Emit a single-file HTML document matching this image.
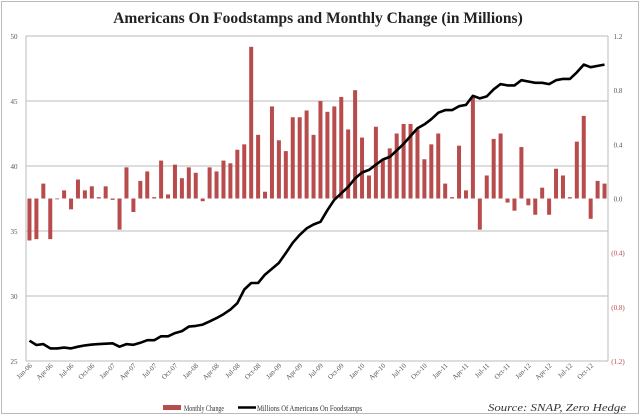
<!DOCTYPE html>
<html><head><meta charset="utf-8"><style>
html,body{margin:0;padding:0;background:#fff}
svg{display:block;font-family:"Liberation Serif",serif}
</style></head><body>
<svg id="chart" width="640" height="415" viewBox="0 0 640 415" xmlns="http://www.w3.org/2000/svg">
<rect x="1.5" y="1.5" width="637" height="412" fill="#fff" stroke="#bbb" stroke-width="1"/>
<text x="318" y="23" text-anchor="middle" font-size="15.5" font-weight="bold" fill="#222">Americans On Foodstamps and Monthly Change (in Millions)</text>
<g id="grid"></g>
<g id="bars"></g>
<g id="line"></g>
<g id="yleft"></g>
<g id="yright"></g>
<g id="xaxis"></g>
<g>
<rect x="163" y="405" width="18" height="5" fill="#b84c4c"/>
<text x="184" y="411" font-size="8" textLength="40" lengthAdjust="spacingAndGlyphs" fill="#333">Monthly Change</text>
<line x1="238" y1="407.5" x2="256" y2="407.5" stroke="#000" stroke-width="2.5"/>
<text x="257" y="411" font-size="8" textLength="105" lengthAdjust="spacingAndGlyphs" fill="#333">Millions Of Americans On Foodstamps</text>
</g>
<text x="488" y="411" font-size="10" textLength="138" lengthAdjust="spacingAndGlyphs" font-style="italic" fill="#333">Source: SNAP, Zero Hedge</text>
</svg>
<script>
const changes=[-0.31,-0.30,0.11,-0.30,0.0,0.06,-0.08,0.14,0.06,0.09,0.01,0.09,-0.01,-0.23,0.23,-0.10,0.13,0.20,0.01,0.28,0.03,0.25,0.15,0.23,0.19,-0.02,0.23,0.20,0.28,0.26,0.36,0.40,1.12,0.47,0.05,0.68,0.43,0.35,0.60,0.60,0.65,0.47,0.72,0.64,0.68,0.75,0.51,0.80,0.45,0.17,0.53,0.29,0.37,0.48,0.55,0.55,0.51,0.29,0.40,0.48,0.11,0.01,0.39,0.06,0.75,-0.23,0.17,0.44,0.48,-0.03,-0.09,0.38,-0.05,-0.12,0.08,-0.12,0.22,0.17,0.01,0.42,0.61,-0.15,0.13,0.11];
const totals=[26.56,26.23,26.3,25.97,25.97,26.03,25.97,26.1,26.2,26.26,26.3,26.33,26.36,26.1,26.3,26.25,26.4,26.6,26.6,26.9,26.9,27.15,27.3,27.65,27.7,27.8,28.05,28.3,28.6,28.95,29.45,30.5,31.0,31.0,31.65,32.1,32.55,33.3,34.1,34.7,35.2,35.5,35.71,36.6,37.4,37.9,38.4,39.05,39.5,39.7,40.1,40.5,40.7,41.2,41.7,42.3,42.9,43.2,43.6,44.1,44.3,44.3,44.6,44.7,45.4,45.2,45.35,45.9,46.3,46.2,46.2,46.6,46.5,46.4,46.4,46.3,46.6,46.7,46.7,47.2,47.8,47.6,47.7,47.8];
const xLabels=["Jan-06","Apr-06","Jul-06","Oct-06","Jan-07","Apr-07","Jul-07","Oct-07","Jan-08","Apr-08","Jul-08","Oct-08","Jan-09","Apr-09","Jul-09","Oct-09","Jan-10","Apr-10","Jul-10","Oct-10","Jan-11","Apr-11","Jul-11","Oct-11","Jan-12","Apr-12","Jul-12","Oct-12"];
const leftTicks=[25,30,35,40,45,50];
const rightTicks=[-1.2,-0.8,-0.4,0.0,0.4,0.8,1.2];
const NS="http://www.w3.org/2000/svg";
const X0=26,X1=608,TOP=36,BOT=361;
const band=(X1-X0)/changes.length;
const xc=i=>X0+band*(i+0.5);
const yL=v=>BOT-(v-25)/25*(BOT-TOP);
const yR=v=>BOT-(v+1.2)/2.4*(BOT-TOP);
function mk(tag,attrs,parent){const e=document.createElementNS(NS,tag);for(const k in attrs)e.setAttribute(k,attrs[k]);parent.appendChild(e);return e;}
const grid=document.getElementById('grid');
leftTicks.forEach(t=>{
  const l=mk('line',{x1:X0,x2:X1,y1:yL(t),y2:yL(t),stroke:'#bbb','stroke-width':1},grid);
  
  
});
const yl=document.getElementById('yleft');
mk('line',{x1:X0,x2:X0,y1:TOP,y2:BOT,stroke:'#bbb'},yl);
leftTicks.forEach(t=>{
  const tx=mk('text',{x:14,y:yL(t)+3,'text-anchor':'middle','font-size':7,fill:'#555'},yl);
  tx.textContent=t;
  
  
});
const yr=document.getElementById('yright');
mk('line',{x1:X1,x2:X1,y1:TOP,y2:BOT,stroke:'#bbb'},yr);
rightTicks.forEach(t=>{
  const neg=t<0;
  const s=neg?'('+Math.abs(t).toFixed(1)+')':t.toFixed(1);
  const tx=mk('text',{x:618,y:yR(t)+3,'text-anchor':'middle','font-size':7,fill:neg?'#b84c4c':'#555'},yr);
  tx.textContent=s;
  
  
});
const bars=document.getElementById('bars');
changes.forEach((v,i)=>{
  const y0=yR(0),y1=yR(v);
  const r=mk('rect',{x:xc(i)-2,y:Math.min(y0,y1),width:4,height:Math.max(0.8,Math.abs(y1-y0)),fill:'#b84c4c'},bars);
  
  
});
const lg=document.getElementById('line');
const p=mk('polyline',{points:totals.map((v,i)=>xc(i).toFixed(1)+','+yL(v).toFixed(1)).join(' '),fill:'none',stroke:'#000','stroke-width':2.6,'stroke-linejoin':'round'},lg);


const xa=document.getElementById('xaxis');
xLabels.forEach((s,k)=>{
  const x=xc(k*3)+3, y=366;
  const tx=mk('text',{x:x,y:y,'text-anchor':'end','font-size':7,fill:'#555',transform:'rotate(-45 '+x+' '+y+')'},xa);
  tx.textContent=s;
  
  
});
</script>
</body></html>
